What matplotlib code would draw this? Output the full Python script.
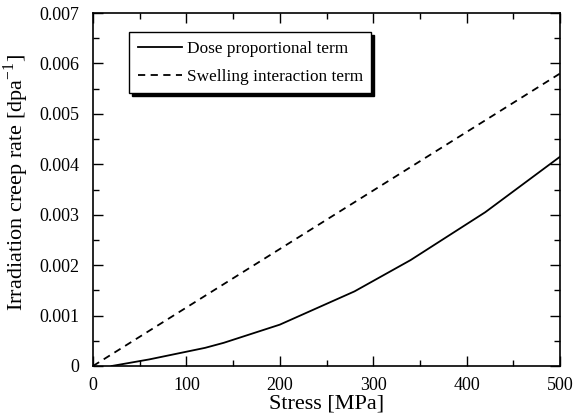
import matplotlib
matplotlib.use("Agg")
import matplotlib.pyplot as plt
from matplotlib.ticker import MultipleLocator

plt.rcParams['font.family'] = ['Liberation Serif', 'DejaVu Serif']
plt.rcParams['mathtext.fontset'] = 'custom'
plt.rcParams['mathtext.rm'] = 'Liberation Serif'

dose_x = [20, 60, 120, 140, 200, 280, 340, 420, 460, 500]
dose_y = [0.0, 0.00013, 0.00036, 0.00046, 0.00082, 0.00148, 0.0021, 0.00305, 0.0036, 0.00415]
swell_x = [0, 500]
swell_y = [0.0, 0.0058]
yticks = [0, 0.001, 0.002, 0.003, 0.004, 0.005, 0.006, 0.007]
yticklabels = ['0', '0.001', '0.002', '0.003', '0.004', '0.005', '0.006', '0.007']

fig = plt.figure(figsize=(5.74, 4.2), dpi=100)
ax = fig.add_axes([93/574, 1-366/420, (560-93)/574, (366-13)/420])

ax.plot(dose_x, dose_y, color='black', lw=1.3, label='Dose proportional term')
ax.plot(swell_x, swell_y, color='black', lw=1.3, linestyle=(0, (4, 3)), label='Swelling interaction term')

ax.set_xlim(0, 500)
ax.set_ylim(0, 0.007)
ax.xaxis.set_major_locator(MultipleLocator(100))
ax.xaxis.set_minor_locator(MultipleLocator(50))
ax.set_yticks(yticks)
ax.set_yticklabels(yticklabels)
ax.yaxis.set_minor_locator(MultipleLocator(0.0005))
ax.tick_params(which='both', direction='in', top=True, right=True, labelsize=13, width=1)
ax.tick_params(which='major', length=7)
ax.tick_params(which='minor', length=4)
ax.tick_params(axis='y', which='major', pad=10)
ax.tick_params(axis='x', which='major', pad=8)
for s in ax.spines.values():
    s.set_linewidth(1.2)

ax.set_xlabel('Stress [MPa]', fontsize=16, labelpad=0)
ax.set_ylabel('Irradiation creep rate [dpa$^{\\mathregular{-1}}$]', fontsize=16)
ax.yaxis.set_label_coords(-0.133, 0.52)

leg = ax.legend(loc='upper left', bbox_to_anchor=((129-93)/467, 1-(32-13)/353), borderaxespad=0,
                fontsize=12.4, frameon=True, fancybox=False, edgecolor='black', framealpha=1,
                shadow={'color': 'black', 'alpha': 1}, borderpad=0.5, handlelength=2.55,
                handletextpad=0.3, labelspacing=0.7)
leg.get_frame().set_linewidth(1.0)

fig.savefig('out.png', dpi=100)
